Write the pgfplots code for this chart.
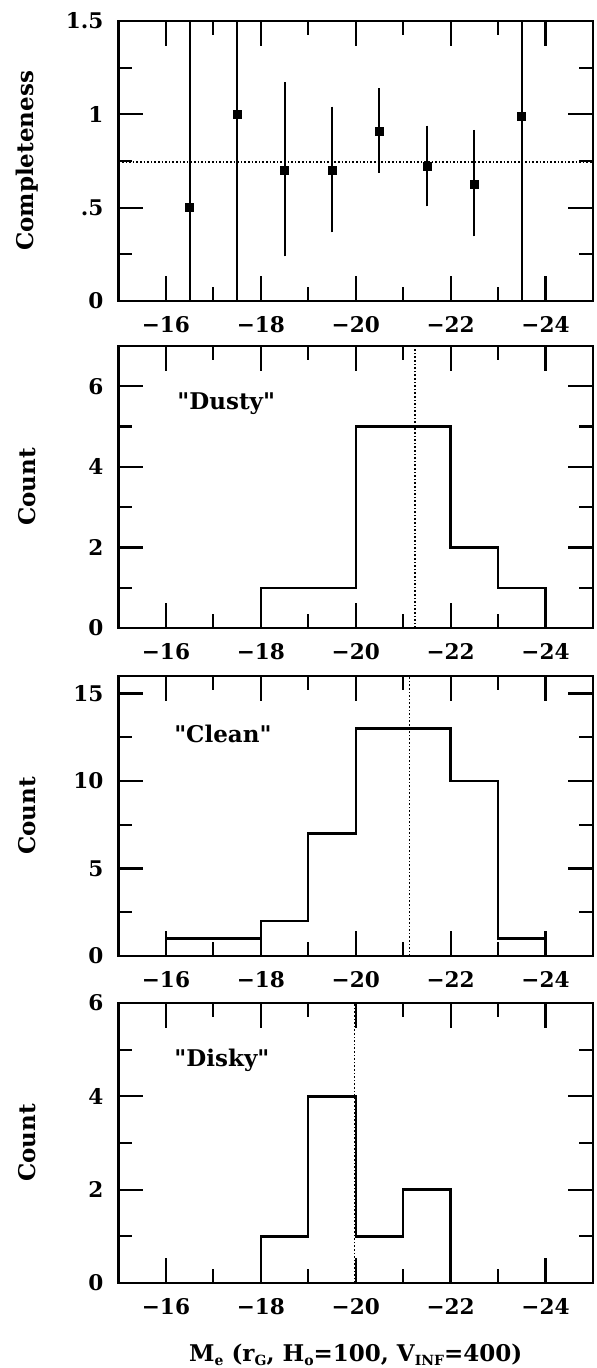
\documentclass[border=0pt]{standalone}
\usepackage{fontspec}
\setmainfont{DejaVu Serif}
\usepackage{pgfplots}
\pgfplotsset{compat=1.18}
\newcommand\lblfont{\bfseries\fontsize{11.5}{14}\selectfont}
\newcommand\tkfont{\bfseries\fontsize{10.8}{13}\selectfont}
\newcommand\sub[1]{\raisebox{-0.35ex}{\fontsize{7}{8}\selectfont #1}}
\newcommand\q{\textquotedbl}
\pgfplotsset{panel/.style={
  scale only axis, width=237.25pt, height=140pt, anchor=north west,
  x dir=reverse, xmin=-25, xmax=-15,
  xtick={-24,-22,-20,-18,-16}, xticklabels={−24,−22,−20,−18,−16},
  minor xtick={-23,-21,-19,-17},
  major tick length=12.5pt, minor tick length=7pt,
  tick style={black, line width=1.1pt},
  axis line style={line width=1.3pt},
  tick label style={font=\tkfont},
  yticklabel style={xshift=-4pt},
  xticklabel style={yshift=-4pt},
  ylabel style={at={(axis description cs:-0.193,0.5)}, anchor=center, font=\lblfont},
  /pgf/number format/assume math mode=true,
}}
\begin{document}
\begin{tikzpicture}
\path[use as bounding box] (-59.25pt,10.5pt) rectangle (238.75pt,-673.5pt);
% Panel 1
\begin{axis}[panel, at={(0,0)}, ymin=0, ymax=1.5,
  ytick={0,0.5,1,1.5}, yticklabels={0,.5,1,1.5}, minor ytick={0.25,0.75,1.25},
  ylabel={Completeness}]
\addplot[densely dotted, line width=0.8pt] coordinates {(-15,0.745) (-25,0.745)};
\addplot[only marks, black, mark=square*, mark size=2pt,
  error bars/.cd, y dir=both, y explicit, error mark=-,
  error bar style={line width=1pt},
  error mark options={mark size=1.5pt, line width=1pt}]
  coordinates {
  (-16.5,0.50) += (0,1.0) -= (0,0.5)
  (-17.5,1.00) += (0,0.5) -= (0,1.0)
  (-18.5,0.70) += (0,0.456) -= (0,0.445)
  (-19.5,0.70) += (0,0.325) -= (0,0.317)
  (-20.5,0.91) += (0,0.214) -= (0,0.206)
  (-21.5,0.72) += (0,0.204) -= (0,0.197)
  (-22.5,0.626) += (0,0.274) -= (0,0.264)
  (-23.5,0.99) += (0,0.51) -= (0,0.99)
  };
\end{axis}
% Panel 2
\begin{axis}[panel, at={(0,-162.5pt)}, height=141pt, ymin=0, ymax=7,
  ytick={0,2,4,6}, minor ytick={1,3,5}, ylabel={Count}]
\addplot[const plot, line width=1.2pt] coordinates {(-18,0) (-18,1) (-20,5) (-22,2) (-23,1) (-24,0)};
\addplot[densely dotted, line width=0.8pt] coordinates {(-21.25,0) (-21.25,7)};
\node[font=\lblfont] at (axis cs:-17.27,5.58) {\q Dusty\q};
\end{axis}
% Panel 3
\begin{axis}[panel, at={(0,-327.5pt)}, ymin=0, ymax=16,
  ytick={0,5,10,15}, minor ytick={2.5,7.5,12.5}, ylabel={Count}]
\addplot[const plot, line width=1.2pt] coordinates {(-16,0) (-16,1) (-18,2) (-19,7) (-20,13) (-22,10) (-23,1) (-24,0)};
\addplot[densely dotted, line width=0.8pt] coordinates {(-21.13,0) (-21.13,16)};
\node[font=\lblfont] at (axis cs:-17.2,12.7) {\q Clean\q};
\end{axis}
% Panel 4
\begin{axis}[panel, at={(0,-491pt)}, ymin=0, ymax=6,
  ytick={0,2,4,6}, minor ytick={1,3,5}, ylabel={Count},
  xlabel={M\sub{e} (r\sub{G}, H\sub{o}=100, V\sub{INF}=400)},
  xlabel style={at={(axis description cs:0.5,-0.258)}, anchor=center, font=\lblfont}]
\addplot[const plot, line width=1.2pt] coordinates {(-18,0) (-18,1) (-19,4) (-20,1) (-21,2) (-22,0)};
\addplot[densely dotted, line width=0.8pt] coordinates {(-19.97,0) (-19.97,6)};
\node[font=\lblfont] at (axis cs:-17.18,4.78) {\q Disky\q};
\end{axis}
\end{tikzpicture}
\end{document}
